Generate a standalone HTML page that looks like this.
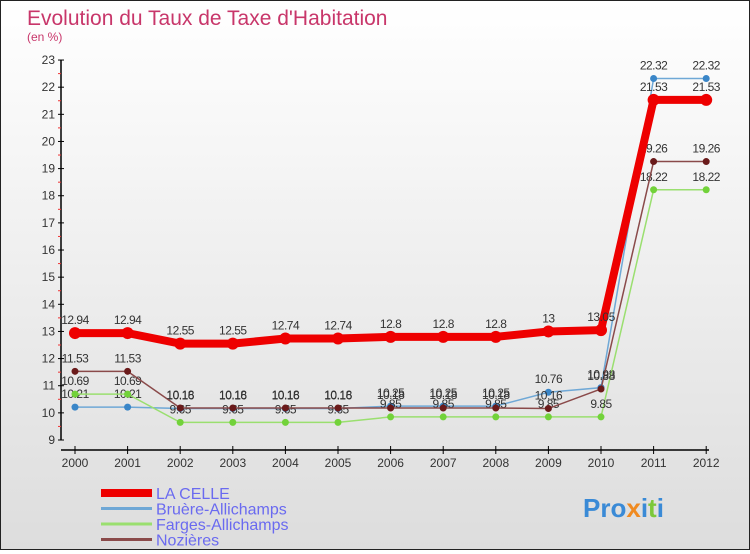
<!DOCTYPE html>
<html><head><meta charset="utf-8"><style>
body{margin:0;width:750px;height:550px;overflow:hidden;font-family:"Liberation Sans",sans-serif}
#wrap{position:relative;width:748px;height:548px;border:1px solid #222;background:linear-gradient(#fff,#ddd)}
</style></head><body>
<div id="wrap">
<svg id="chart" width="748" height="548">
<text x="26" y="24" font-size="21" fill="#c8366a">Evolution du Taux de Taxe d'Habitation</text>
<text x="26" y="40" font-size="12" fill="#c8366a">(en %)</text>
</svg>
</div>
<script>
const years=[2000,2001,2002,2003,2004,2005,2006,2007,2008,2009,2010,2011,2012];
const laCelle=[12.94,12.94,12.55,12.55,12.74,12.74,12.8,12.8,12.8,13,13.05,21.53,21.53];
const bruere=[10.21,10.21,10.16,10.16,10.16,10.16,10.25,10.25,10.25,10.76,10.93,22.32,22.32];
const farges=[10.69,10.69,9.65,9.65,9.65,9.65,9.85,9.85,9.85,9.85,9.85,18.22,18.22];
const nozieres=[11.53,11.53,10.18,10.18,10.18,10.18,10.18,10.18,10.18,10.16,10.88,19.26,19.26];
const yTicks=[9,10,11,12,13,14,15,16,17,18,19,20,21,22,23];
const NS="http://www.w3.org/2000/svg";
const svg=document.getElementById('chart');
const X=i=>74+i*52.6;
const Y=v=>439-(v-9)*27.14;
function mk(t,a,p){const e=document.createElementNS(NS,t);for(const k in a)e.setAttribute(k,a[k]);(p||svg).appendChild(e);return e;}
let ax=mk('line',{x1:60,y1:Y(23),x2:60,y2:Y(9),stroke:'#000','stroke-width':1.5});


let xx=mk('line',{x1:60,y1:449,x2:708,y2:449,stroke:'#000','stroke-width':1.5});


yTicks.forEach(v=>{
 mk('line',{x1:57,y1:Y(v),x2:63,y2:Y(v),stroke:'#000'});
 if(v<23)mk('line',{x1:57,y1:Y(v+0.5),x2:60,y2:Y(v+0.5),stroke:'#e33'});
 const t=mk('text',{x:54,y:Y(v)+4,'text-anchor':'end','font-size':12,fill:'#333'});t.textContent=v;
 
 
});
years.forEach((y,i)=>{
 mk('line',{x1:X(i),y1:445,x2:X(i),y2:453,stroke:'#000'});
 const t=mk('text',{x:X(i),y:466,'text-anchor':'middle','font-size':12,fill:'#333'});t.textContent=y;
 
 
});
const series=[
 {d:bruere,c:'#6fa8d6',dot:'#3a86c8',w:1.5,n:'bruere'},
 {d:farges,c:'#9adf6f',dot:'#72d23a',w:1.5,n:'farges'},
 {d:nozieres,c:'#8a4a4a',dot:'#6a1a1a',w:1.5,n:'nozieres'},
 {d:laCelle,c:'#ee0000',dot:'#ee0000',w:8,n:'la-celle'}];
series.forEach(s=>{
 const p=mk('polyline',{points:s.d.map((v,i)=>X(i)+','+Y(v)).join(' '),fill:'none',stroke:s.c,'stroke-width':s.w});
 
 
 s.d.forEach((v,i)=>{
  const c=mk('circle',{cx:X(i),cy:Y(v),r:s.w>4?6:3.5,fill:s.dot});
  
  
  const t=mk('text',{x:X(i),y:Y(v)-9,'text-anchor':'middle','font-size':12,fill:'#333','letter-spacing':'-0.5'});
  t.textContent=v;
  
  
 });
});
const leg=[['LA CELLE','#ee0000',8],['Bruère-Allichamps','#6fa8d6',3],['Farges-Allichamps','#9adf6f',3],['Nozières','#8a4a4a',3]];
leg.forEach((l,i)=>{
 const y=492+i*15.5;
 const ln=mk('line',{x1:100,y1:y,x2:151,y2:y,stroke:l[1],'stroke-width':l[2]});
 
 
 const t=mk('text',{x:155,y:y+6,'font-size':16,fill:'#6a6af0'});t.textContent=l[0];
 
 
});
const b=mk('text',{x:582,y:516,'font-size':26,'font-weight':'bold'});


[['Pro','#3a8ad6'],['x','#f08a20'],['i','#3a8ad6'],['t','#7cc83a'],['i','#3a8ad6']].forEach(p=>{
 const s=mk('tspan',{fill:p[1]},b);s.textContent=p[0];
});
</script>
</body></html>
